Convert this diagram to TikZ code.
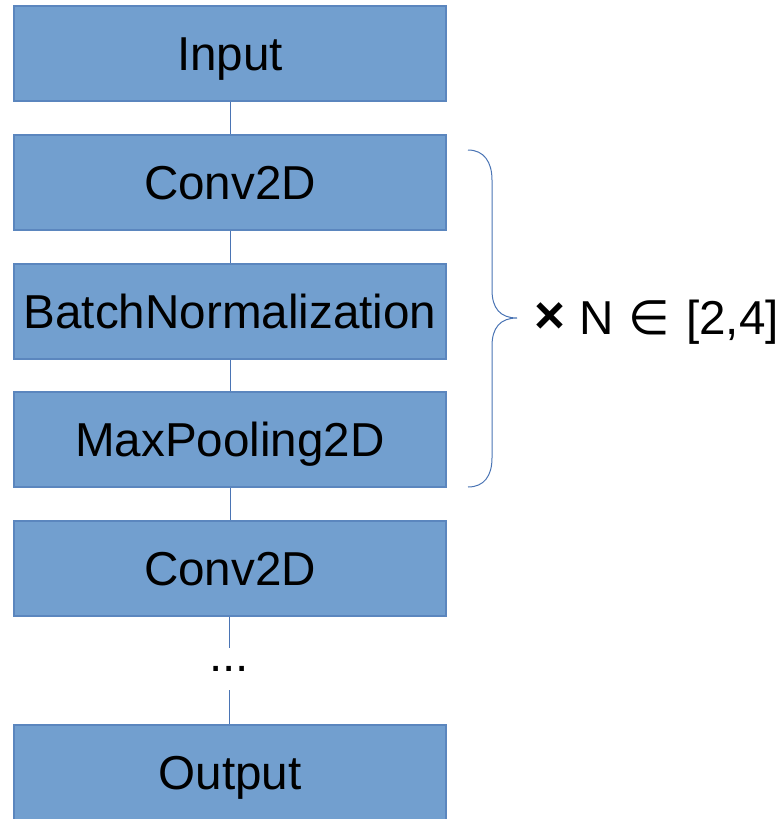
\documentclass[tikz,border=0pt]{standalone}
\usepackage{fontspec}
\setmainfont{Liberation Sans}
\newfontfamily\symfont{DejaVu Sans}
\begin{document}
\begin{tikzpicture}[x=1pt,y=-1pt,
  bigtext/.style={font=\fontsize{47.6}{52}\selectfont},
  layerbox/.style={bigtext, draw=boxedge, line width=1.3pt, fill=boxfill, rectangle,
    minimum width=432pt, minimum height=95pt, inner sep=0pt,
    text height=34pt, text depth=0pt},
  reptext/.style={bigtext, anchor=base west, inner sep=0pt},
  link/.style={draw=linkblue, line width=1pt}]
\definecolor{boxfill}{HTML}{729FCF}
\definecolor{boxedge}{HTML}{5B86BE}
\definecolor{linkblue}{HTML}{4A74B4}
\useasboundingbox (0,0) rectangle (784,819);
\begin{scope}
\clip (0,0) rectangle (784,819);
% layer stack
\node[layerbox] (in)   at (230,53.5)  {Input};
\node[layerbox] (c1)   at (230,182.5) {Conv2D};
\node[layerbox] (bn)   at (230,311.5) {BatchNormalization};
\node[layerbox] (mp)   at (230,439.5) {MaxPooling2D};
\node[layerbox] (c2)   at (230,568.5) {Conv2D};
\node[bigtext, inner sep=0pt, minimum height=42pt] (dots) at (229,669) {...};
\node[layerbox] (out)  at (230,772.5) {Output};
% connectors between layers
\draw[link] (in) -- (c1);
\draw[link] (c1) -- (bn);
\draw[link] (bn) -- (mp);
\draw[link] (mp) -- (c2);
\draw[link] (c2.south -| dots) -- (dots.north);
\draw[link] (dots.south) -- (out.north -| dots);
\end{scope}
% repetition brace
\draw[linkblue, line width=1pt]
  (468,150) .. controls (484,150) and (492,162) .. (492,180)
  -- (492,290) .. controls (492,308) and (500,318) .. (517,318)
  .. controls (500,318) and (492,328) .. (492,346)
  -- (492,458) .. controls (492,476) and (484,487) .. (468,487);
% repetition count
\node[reptext, font=\fontsize{53}{56}\selectfont\bfseries] (times) at (534,333) {×};
\node[reptext] (nsym)  at (579,334) {N};
\node[reptext] (elem)  at (628,334) {\symfont ∈};
\node[reptext] (range) at (686,334) {[2,4]};
\end{tikzpicture}
\end{document}
